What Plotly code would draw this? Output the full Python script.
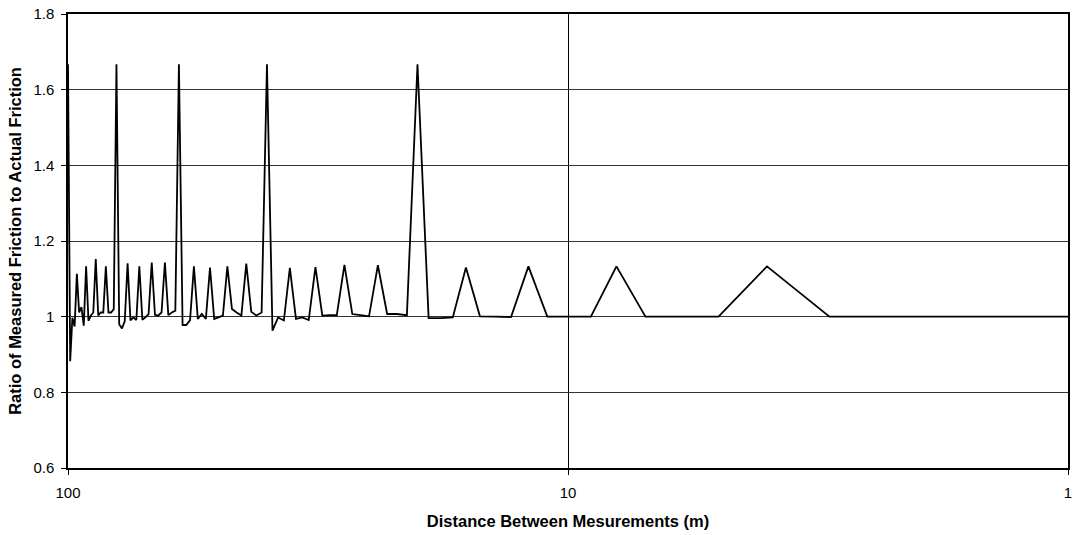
import plotly.graph_objects as go

# Measurement spacing (m), from 100 m down to 1 m
distance_m = list(range(100, 0, -1))

# Ratio of measured friction to actual friction at each spacing
ratio = [
    1.667, 0.882, 0.997, 0.974, 1.113, 1.011, 1.025, 0.976, 1.133, 0.989,   # 100-91
    1.003, 1.011, 1.152, 1.003, 1.011, 1.011, 1.133, 1.011, 1.011, 1.020,   # 90-81
    1.667, 0.980, 0.969, 0.988, 1.141, 0.990, 0.998, 0.991, 1.133, 0.992,   # 80-71
    0.998, 1.007, 1.143, 1.005, 1.003, 1.011, 1.143, 1.004, 1.011, 1.016,   # 70-61
    1.667, 0.978, 0.978, 0.991, 1.133, 0.994, 1.007, 0.994, 1.130, 0.994,   # 60-51
    0.998, 1.003, 1.133, 1.020, 1.011, 1.003, 1.140, 1.013, 1.003, 1.011,   # 50-41
    1.667, 0.963, 0.998, 0.990, 1.129, 0.994, 0.998, 0.991, 1.131, 1.003,   # 40-31
    1.004, 1.004, 1.137, 1.007, 1.004, 1.001, 1.136, 1.007, 1.007, 1.004,   # 30-21
    1.667, 0.996, 0.996, 0.998, 1.130, 1.001, 1.000, 0.999, 1.133, 1.000,   # 20-11
    1.000, 1.000, 1.133, 1.000, 1.000, 1.000, 1.133, 1.000, 1.000, 1.000,   # 10-1
]

x_tick_vals = [100, 10, 1]
x_tick_text = ["100", "10", "1"]
y_tick_vals = [0.6, 0.8, 1.0, 1.2, 1.4, 1.6, 1.8]
y_tick_text = ["0.6", "0.8", "1", "1.2", "1.4", "1.6", "1.8"]

font_family = "Liberation Sans, Arial, sans-serif"

fig = go.Figure(
    go.Scatter(
        x=distance_m,
        y=ratio,
        mode="lines",
        line=dict(color="#000000", width=1.8),
        hoverinfo="x+y",
    )
)

fig.update_layout(
    width=1077,
    height=535,
    margin=dict(l=68, r=5, t=14, b=67),
    paper_bgcolor="#ffffff",
    plot_bgcolor="#ffffff",
    showlegend=False,
    font=dict(family=font_family, color="#000000", size=15),
)

fig.update_xaxes(
    type="log",
    range=[2, 0],
    tickvals=x_tick_vals,
    ticktext=x_tick_text,
    ticks="outside",
    ticklen=5,
    tickcolor="#000000",
    tickfont=dict(size=15),
    ticklabelstandoff=5,
    showline=True,
    linecolor="#000000",
    linewidth=1.5,
    mirror=True,
    showgrid=True,
    gridcolor="#000000",
    gridwidth=1,
    zeroline=False,
    title=dict(
        text="<b>Distance Between Mesurements (m)</b>",
        font=dict(size=16.5),
        standoff=16,
    ),
)

fig.update_yaxes(
    range=[0.6, 1.8],
    tickvals=y_tick_vals,
    ticktext=y_tick_text,
    ticks="outside",
    ticklen=5,
    tickcolor="#000000",
    tickfont=dict(size=15),
    ticklabelstandoff=4,
    showline=True,
    linecolor="#000000",
    linewidth=1.5,
    mirror=True,
    showgrid=True,
    gridcolor="#333333",
    gridwidth=1,
    zeroline=False,
    title=dict(
        text="<b>Ratio of Measured Friction to Actual Friction</b>",
        font=dict(size=16.5),
        standoff=8,
    ),
)

fig.write_html("out.html")
